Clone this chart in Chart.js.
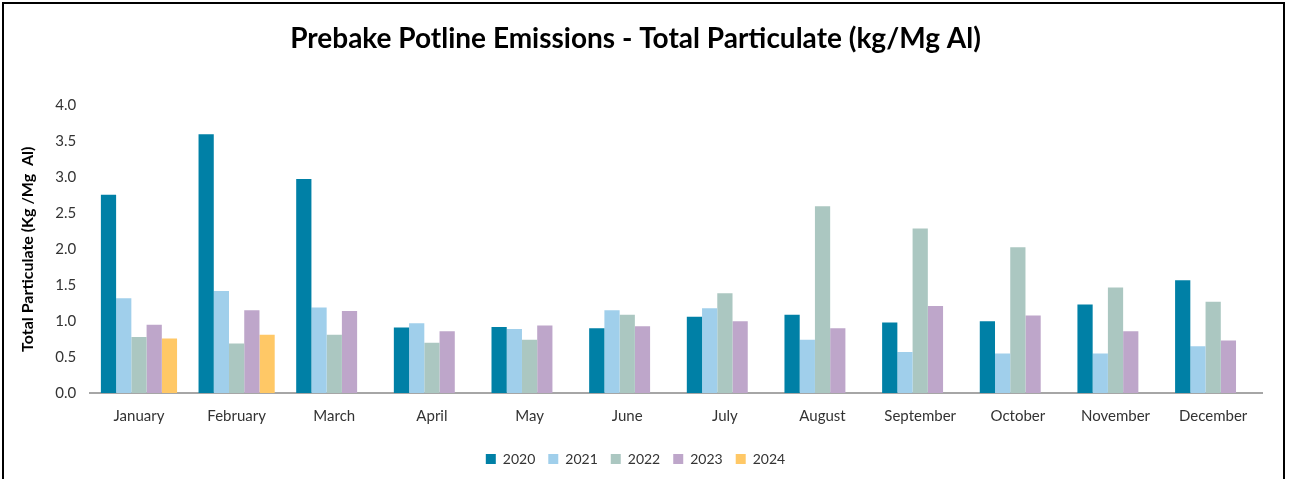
<!DOCTYPE html>
<html>
<head>
<meta charset="utf-8">
<script src="https://cdn.jsdelivr.net/npm/chart.js@4"></script>
<style>
  html, body { margin: 0; padding: 0; background: #fff; overflow: hidden; }
  #frame { position: absolute; left: 2px; top: 2px; width: 1283px; height: 520px; border: 2px solid #000; box-sizing: border-box; }
  #wrap { position: absolute; left: 0; top: 0; width: 1290px; height: 479px; }
</style>
</head>
<body>
<div id="frame"></div>
<div id="wrap"><canvas id="chart"></canvas></div>
<script>
const MONTHS = ['January', 'February', 'March', 'April', 'May', 'June', 'July', 'August', 'September', 'October', 'November', 'December']
const Y2020 = [2.76, 3.60, 2.98, 0.91, 0.92, 0.90, 1.06, 1.09, 0.98, 1.00, 1.23, 1.57]
const Y2021 = [1.32, 1.42, 1.19, 0.97, 0.89, 1.15, 1.18, 0.74, 0.57, 0.55, 0.55, 0.65]
const Y2022 = [0.78, 0.69, 0.81, 0.70, 0.74, 1.09, 1.39, 2.60, 2.29, 2.03, 1.47, 1.27]
const Y2023 = [0.95, 1.15, 1.14, 0.86, 0.94, 0.93, 1.00, 0.90, 1.21, 1.08, 0.86, 0.73]
const Y2024 = [0.76, 0.81, null, null, null, null, null, null, null, null, null, null]
const YEARS = ['2020', '2021', '2022', '2023', '2024']
const COLORS = ['#0080a6', '#a0cfeb', '#abc7c1', '#bea6ca', '#ffc866']

const FONT = 'Lato, "Open Sans", sans-serif'
const series = [Y2020, Y2021, Y2022, Y2023, Y2024]

new Chart(document.getElementById('chart'), {
  type: 'bar',
  data: {
    labels: MONTHS,
    datasets: series.map((d, i) => ({
      label: YEARS[i],
      data: d,
      backgroundColor: COLORS[i],
      borderWidth: 0,
      barPercentage: 1,
      categoryPercentage: 0.78,
    })),
  },
  options: {
    responsive: true,
    maintainAspectRatio: false,
    animation: false,
    layout: { padding: { left: 9, right: 28, top: 0, bottom: 3 } },
    plugins: {
      title: {
        display: true,
        text: 'Prebake Potline Emissions - Total Particulate (kg/Mg Al)',
        color: '#000',
        font: { family: FONT, size: 28, weight: 'bold' },
        padding: { top: 22, bottom: 50 },
      },
      legend: {
        position: 'bottom',
        labels: {
          color: '#333',
          font: { family: FONT, size: 14 },
          boxWidth: 10, boxHeight: 10,
          padding: 13,
        },
      },
      tooltip: { enabled: false },
    },
    scales: {
      x: {
        grid: { display: false, drawTicks: false },
        border: { color: '#a6a6a6', width: 2 },
        ticks: { color: '#333', font: { family: FONT, size: 15 }, padding: 14 },
      },
      y: {
        min: 0, max: 4,
        grid: { display: false, drawTicks: false },
        border: { display: false },
        ticks: {
          stepSize: 0.5,
          color: '#333',
          font: { family: FONT, size: 15 },
          padding: 14,
          callback: v => v.toFixed(1),
        },
        title: {
          display: true,
          text: 'Total Particulate (Kg /Mg  Al)',
          color: '#000',
          font: { family: FONT, size: 16, weight: 'bold' },
          padding: { top: 9, bottom: 4 },
        },
      },
    },
  },
})
</script>
</body>
</html>
